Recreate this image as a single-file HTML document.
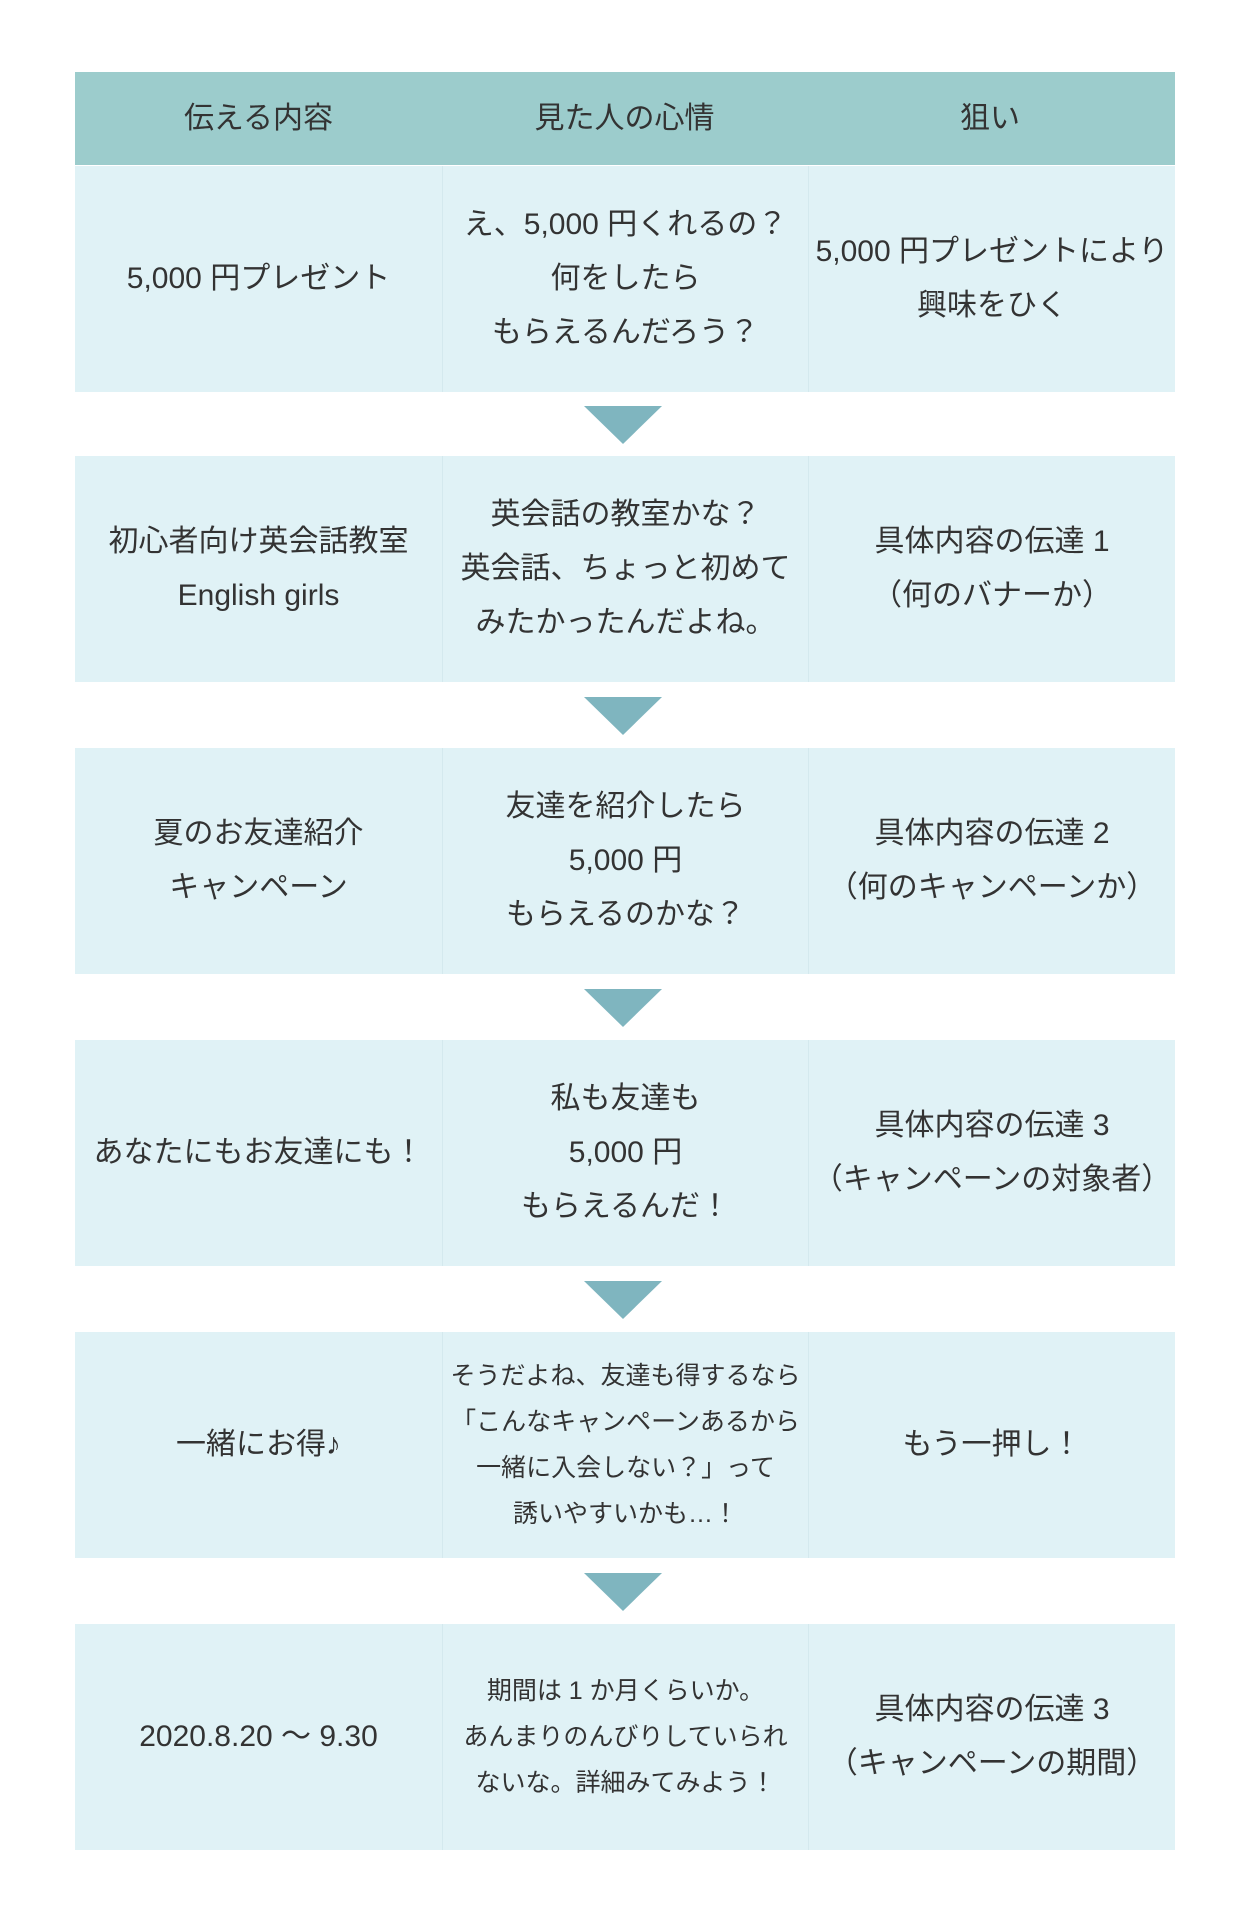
<!DOCTYPE html>
<html><head><meta charset="utf-8"><style>
body{margin:0;width:1250px;height:1920px;background:#fff;font-family:"Liberation Sans","Noto Sans CJK JP",sans-serif;color:#333;position:relative;overflow:hidden}
.row{position:absolute;left:75px;width:1100px;display:flex}
.c{display:flex;align-items:center;justify-content:center;text-align:center;font-size:30px;line-height:54px;white-space:nowrap}
.c1{width:367px}.c2{width:365px;border-left:1px solid #d4e9ee;border-right:1px solid #d4e9ee}.c3{width:366px}
.body{background:#e0f2f6;height:226px}
.hd{background:#9ccccc;height:93px;top:72px}
.sm{font-size:25px;line-height:46px}
.ar{position:absolute;left:584px;width:0;height:0;border-left:39px solid transparent;border-right:39px solid transparent;border-top:38px solid #7fb5bf}
</style></head><body>
<div class="row hd"><div class="c c1">伝える内容</div><div class="c c2" style="border:none">見た人の心情</div><div class="c c3">狙い</div></div>

<div class="row body" style="top:166px"><div class="c c1">5,000 円プレゼント</div><div class="c c2">え、5,000 円くれるの？<br>何をしたら<br>もらえるんだろう？</div><div class="c c3">5,000 円プレゼントにより<br>興味をひく</div></div>
<div class="ar" style="top:406px"></div>

<div class="row body" style="top:456px"><div class="c c1">初心者向け英会話教室<br>English girls</div><div class="c c2">英会話の教室かな？<br>英会話、ちょっと初めて<br>みたかったんだよね。</div><div class="c c3">具体内容の伝達 1<br>（何のバナーか）</div></div>
<div class="ar" style="top:697px"></div>

<div class="row body" style="top:748px"><div class="c c1">夏のお友達紹介<br>キャンペーン</div><div class="c c2">友達を紹介したら<br>5,000 円<br>もらえるのかな？</div><div class="c c3">具体内容の伝達 2<br>（何のキャンペーンか）</div></div>
<div class="ar" style="top:989px"></div>

<div class="row body" style="top:1040px"><div class="c c1">あなたにもお友達にも！</div><div class="c c2">私も友達も<br>5,000 円<br>もらえるんだ！</div><div class="c c3">具体内容の伝達 3<br>（キャンペーンの対象者）</div></div>
<div class="ar" style="top:1281px"></div>

<div class="row body" style="top:1332px"><div class="c c1">一緒にお得♪</div><div class="c c2 sm">そうだよね、友達も得するなら<br>「こんなキャンペーンあるから<br>一緒に入会しない？」って<br>誘いやすいかも…！</div><div class="c c3">もう一押し！</div></div>
<div class="ar" style="top:1573px"></div>

<div class="row body" style="top:1624px"><div class="c c1">2020.8.20 ～ 9.30</div><div class="c c2 sm">期間は 1 か月くらいか。<br>あんまりのんびりしていられ<br>ないな。詳細みてみよう！</div><div class="c c3">具体内容の伝達 3<br>（キャンペーンの期間）</div></div>
</body></html>
